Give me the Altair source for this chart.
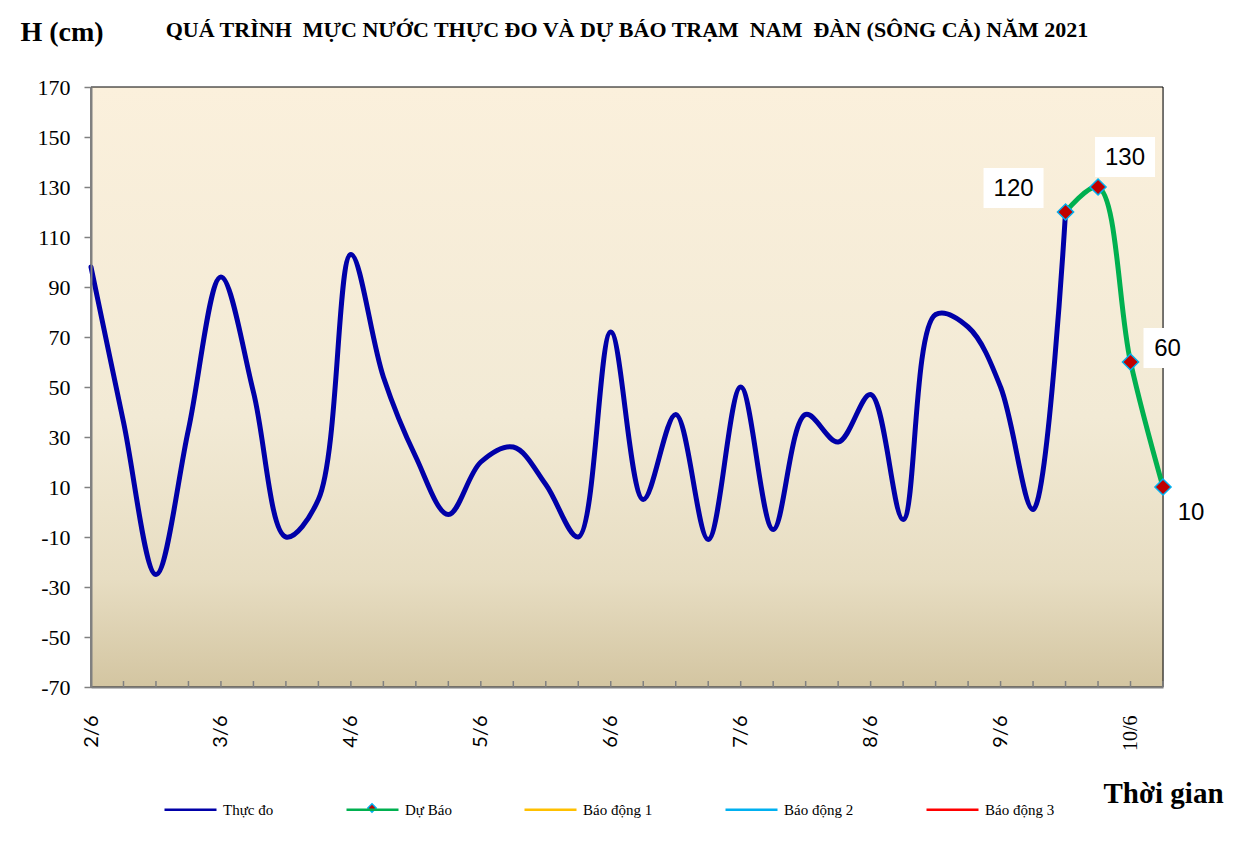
import json
import altair as alt
import pandas as pd

# ---------------- data ----------------
day_labels = ["2/6", "3/6", "4/6", "5/6", "6/6", "7/6", "8/6", "9/6", "10/6"]

# 6-hourly steps starting 2/6 (index 0) ...
obs_index = list(range(31))
obs_values = [98, 36, -25, 33, 94, 48, -10, 5, 103, 54, 22, -1, 20, 26, 11, -10,
              72, 5, 39, -11, 50, -7, 39, 28, 47, -3, 79, 74, 50, 1, 120]

fc_index = [30, 31, 32, 33]
fc_values = [120, 130, 60, 10]
fc_labels = ["120", "130", "60", "10"]

series_names = ["Thực đo", "Dự Báo", "Báo động 1", "Báo động 2", "Báo động 3"]
series_colors = ["#0000A8", "#00B050", "#FFC000", "#00B0F0", "#FF0000"]

title_text = ("QUÁ TRÌNH \u00a0MỰC NƯỚC THỰC ĐO VÀ DỰ BÁO TRẠM \u00a0NAM "
              "\u00a0ĐÀN (SÔNG CẢ) NĂM 2021")

tick_index = list(range(34))
y_ticks = list(range(-70, 171, 20))

# label placement styles (pixel offsets from the point)
label_dx = [-52, 27, 37, 28]
label_dy = [-23, -29, -13, 26]
box_half_w = [1.5, 1.5, 1.2, 1.2]
show_box = [True, True, True, False]

W, H = 1072, 600

obs_df = pd.DataFrame({"i": obs_index, "h": obs_values, "s": series_names[0]})
fc_df = pd.DataFrame({"i": fc_index, "h": fc_values, "s": series_names[1], "lab": fc_labels})
tick_df = pd.DataFrame({"i": tick_index})
one = pd.DataFrame({"a": [0]})

x_scale = alt.Scale(domain=[0, 33], nice=False, zero=False)
y_scale = alt.Scale(domain=[-70, 170], nice=False, zero=False)
color_scale = alt.Scale(domain=series_names, range=series_colors)

label_expr = ("datum.value % 4 == 0 ? " + json.dumps(day_labels) +
              "[datum.value / 4] : ''")

x_axis = alt.Axis(
    values=list(range(0, 33, 4)), labelExpr=label_expr, ticks=False,
    labelAngle=-90, labelPadding=28, labelFontSize=20,
    labelFont={"condition": {"test": "datum.value == 32", "value": "Liberation Serif"},
               "value": "Lato"},
    labelColor="black", labelFlush=False, labelOverlap=False, labelBound=False,
    domainColor="#808080", domainWidth=2, grid=False, zindex=1,
    title="Thời gian", titleAngle=0, titleX=1012, titleY=115, titleAlign="left",
    titleBaseline="alphabetic", titleFont="Liberation Serif", titleFontSize=29,
    titleFontWeight="bold", titleColor="black",
)
y_axis = alt.Axis(
    values=y_ticks, labelExpr="'' + datum.value", tickSize=7, tickColor="#808080",
    tickWidth=1.5, domainColor="#808080", domainWidth=2, grid=False, zindex=1,
    labelFont="Liberation Serif", labelFontSize=22, labelPadding=14,
    labelColor="black", labelFlush=False, labelOverlap=False,
    title="H (cm)", titleAngle=0, titleX=-71, titleY=-47, titleAlign="left",
    titleBaseline="alphabetic", titleFont="Liberation Serif", titleFontSize=28,
    titleFontWeight="bold", titleColor="black",
)

gradient = alt.Gradient(
    gradient="linear", x1=0, x2=0, y1=0, y2=1,
    stops=[alt.GradientStop(color="#FBF0DC", offset=0),
           alt.GradientStop(color="#F2EAD5", offset=0.55),
           alt.GradientStop(color="#E7DDC2", offset=0.82),
           alt.GradientStop(color="#D3C5A1", offset=1)],
)

background = alt.Chart(one).mark_rect(
    color=gradient, stroke="black", strokeWidth=1
).encode(x=alt.value(0), x2=alt.value(W), y=alt.value(0), y2=alt.value(H))

left_border = alt.Chart(one).mark_rule(
    color="#8C8C8C", strokeWidth=1.5
).encode(x=alt.value(-84), y=alt.value(-79), y2=alt.value(743))

title_mark = alt.Chart(one).mark_text(
    text=title_text, font="Liberation Serif", fontSize=22, fontWeight="bold",
    color="black", align="center", baseline="alphabetic",
).encode(x=alt.value(W / 2), y=alt.value(-50))

x_ticks = alt.Chart(tick_df).mark_rule(color="#808080", strokeWidth=1.5).encode(
    x=alt.X("i:Q", scale=x_scale, axis=x_axis),
    y=alt.value(H), y2=alt.value(H - 6),
)

base_y = alt.Y("h:Q", scale=y_scale, axis=y_axis)

obs_line = alt.Chart(obs_df).mark_line(
    interpolate="catmull-rom", strokeWidth=5, strokeCap="round", strokeJoin="round"
).encode(
    x=alt.X("i:Q", scale=x_scale),
    y=base_y,
    color=alt.Color("s:N", scale=color_scale, legend=alt.Legend(
        orient="none", legendX=72, legendY=695, direction="horizontal", columns=5,
        title=None, symbolType="stroke", symbolSize=2704, symbolStrokeWidth=2.5,
        labelFont="Liberation Serif", labelFontSize=15, labelColor="black",
        labelOffset=5, columnPadding=67, labelLimit=200,
    )),
)

fc_line = alt.Chart(fc_df).mark_line(
    interpolate="catmull-rom", strokeWidth=5, strokeCap="round", strokeJoin="round"
).encode(
    x=alt.X("i:Q", scale=x_scale),
    y=alt.Y("h:Q", scale=y_scale),
    color=alt.Color("s:N", scale=color_scale),
)

# marker drawn on the "Dự Báo" legend entry
legend_marker = alt.Chart(one).mark_point(
    shape="diamond", filled=True, fill="#C00000", stroke="#00B0F0",
    strokeWidth=1.5, size=70, opacity=1,
).encode(x=alt.value(281), y=alt.value(721))

boxes = []
texts = []
for k, lab in enumerate(fc_labels):
    sub = fc_df[fc_df["lab"] == lab]
    hw = box_half_w[k]
    if show_box[k]:
        boxes.append(alt.Chart(sub).mark_point(
            shape=f"M-{hw},-1H{hw}V1H-{hw}Z", filled=True, fill="white",
            strokeOpacity=0, opacity=1, size=1600,
            xOffset=label_dx[k], yOffset=label_dy[k] - 1,
        ).encode(x=alt.X("i:Q", scale=x_scale), y=alt.Y("h:Q", scale=y_scale)))
    texts.append(alt.Chart(sub).mark_text(
        font="Liberation Sans", fontSize=24, color="black", align="center",
        baseline="middle", dx=label_dx[k], dy=label_dy[k],
    ).encode(x=alt.X("i:Q", scale=x_scale), y=alt.Y("h:Q", scale=y_scale),
             text="lab:N"))

diamonds = alt.Chart(fc_df).mark_point(
    shape="diamond", filled=True, fill="#C00000", stroke="#00B0F0",
    strokeWidth=1.5, size=260, opacity=1,
).encode(x=alt.X("i:Q", scale=x_scale), y=alt.Y("h:Q", scale=y_scale))

chart = alt.layer(
    background, left_border, title_mark, x_ticks, obs_line, fc_line,
    *boxes, diamonds, *texts, legend_marker
).properties(
    width=W, height=H,
    autosize=alt.AutoSizeParams(type="none"),
    padding={"left": 83, "top": 79, "right": 69, "bottom": 143},
).configure_view(stroke=None).configure(background="white")

chart.save("out.html", embed_options={"renderer": "svg", "actions": False})
